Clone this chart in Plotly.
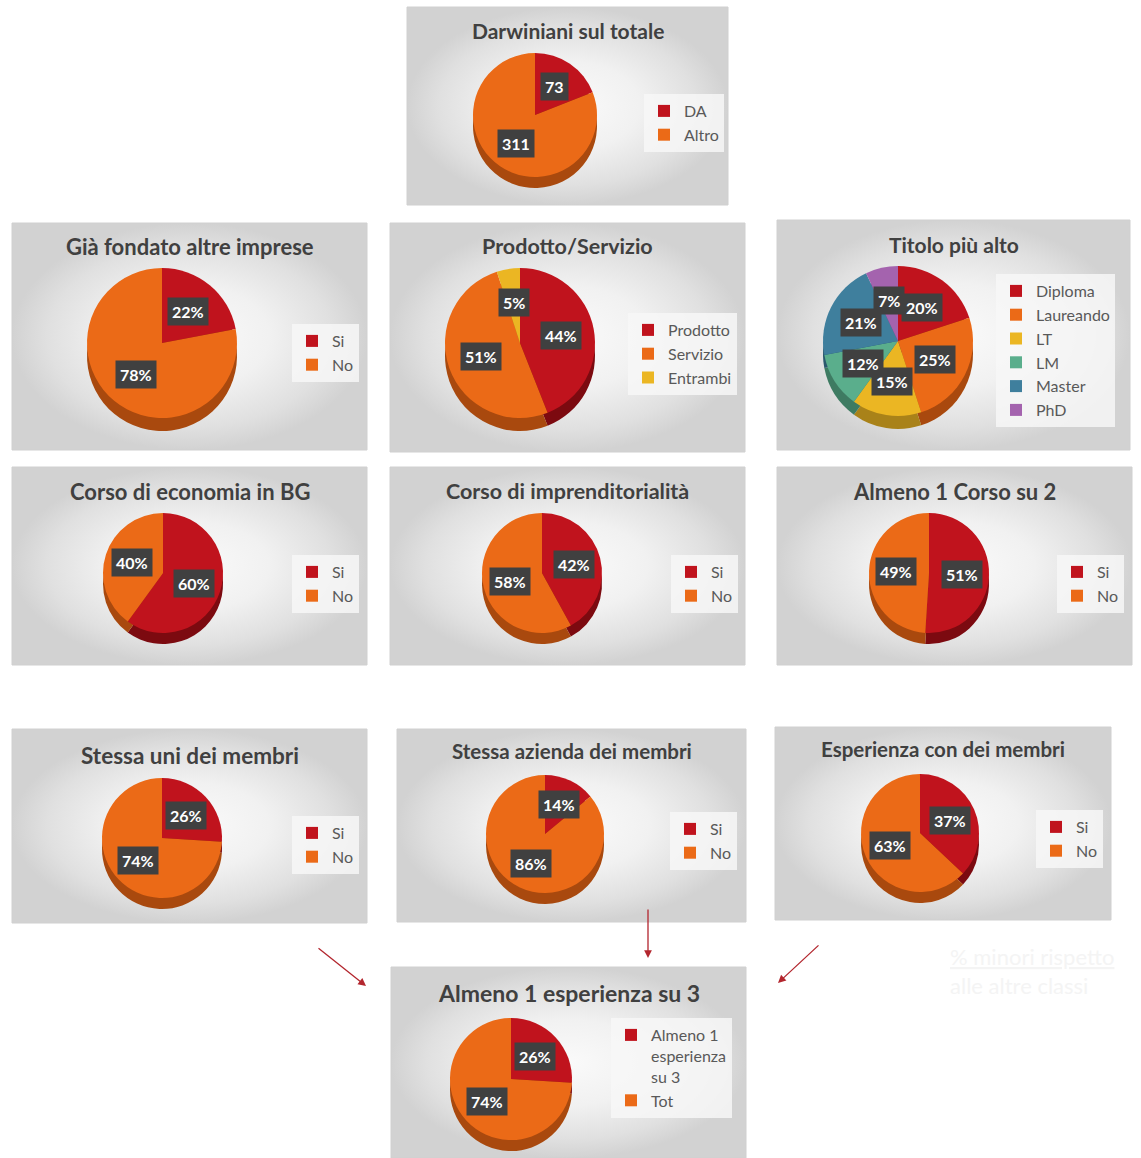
import math
import plotly.graph_objects as go

# ---------------- data ----------------
titles = [
    "Darwiniani sul totale", "Già fondato altre imprese", "Prodotto/Servizio",
    "Titolo più alto", "Corso di economia in BG", "Corso di imprenditorialità",
    "Almeno 1 Corso su 2", "Stessa uni dei membri", "Stessa azienda dei membri",
    "Esperienza con dei membri", "Almeno 1 esperienza su 3",
]
darwin_labels = ["DA", "Altro"]
darwin_values = [73, 311]
si_no_labels = ["Si", "No"]
fondato_values = [22, 78]
prodotto_labels = ["Prodotto", "Servizio", "Entrambi"]
prodotto_values = [44, 51, 5]
titolo_labels = ["Diploma", "Laureando", "LT", "LM", "Master", "PhD"]
titolo_values = [20, 25, 15, 12, 21, 7]
economia_values = [60, 40]
imprenditorialita_values = [42, 58]
corso2_values = [51, 49]
uni_values = [26, 74]
azienda_values = [14, 86]
esperienza_values = [37, 63]
almeno3_labels = ["Almeno 1<br>esperienza<br>su 3", "Tot"]
almeno3_values = [26, 74]

charts = [
    (darwin_labels, darwin_values, "value"),
    (si_no_labels, fondato_values, "pct"),
    (prodotto_labels, prodotto_values, "pct"),
    (titolo_labels, titolo_values, "pct"),
    (si_no_labels, economia_values, "pct"),
    (si_no_labels, imprenditorialita_values, "pct"),
    (si_no_labels, corso2_values, "pct"),
    (si_no_labels, uni_values, "pct"),
    (si_no_labels, azienda_values, "pct"),
    (si_no_labels, esperienza_values, "pct"),
    (almeno3_labels, almeno3_values, "pct"),
]

# ---------------- styling / layout ----------------
W, H = 1141, 1158
colors = ["#C0131D", "#EB6A17", "#EBB623", "#5AAE8C", "#3F7F9D", "#A463AE"]
dark = ["#7C0A10", "#A9490E", "#A98219", "#3E7B62", "#2A586D", "#72447A"]
FONT = "Lato"

# panel box (x0, y0, x1, y1), title y, title size
panels = [
    ((407, 7, 728, 205), 30, 21),
    ((12, 223, 367, 450), 246, 22),
    ((390, 223, 745, 452), 246, 21.5),
    ((777, 220, 1130, 450), 244, 21),
    ((12, 467, 367, 665), 491, 22),
    ((390, 467, 745, 665), 491, 21.5),
    ((777, 467, 1132, 665), 491, 22),
    ((12, 729, 367, 923), 755, 22.5),
    ((397, 729, 746, 922), 751, 20.5),
    ((775, 727, 1111, 920), 749, 20.5),
    ((391, 967, 746, 1158), 993, 23),
]
# pie centre x, centre y, diameter, depth
pies = [
    (535, 115, 124, 11),
    (162, 343, 150, 13),
    (520, 343, 150, 13),
    (898, 341, 150, 13),
    (163, 573, 120, 11),
    (542, 573, 120, 11),
    (929, 573, 120, 11),
    (162, 838, 120, 11),
    (545, 834, 118, 11),
    (920, 833, 118, 11),
    (511, 1079, 122, 11),
]
# legend left x, top y
legends = [
    (644, 94), (292, 324), (628, 313), (996, 274), (292, 555), (671, 555),
    (1057, 555), (292, 816), (670, 812), (1036, 810), (611, 1018),
]

fig = go.Figure()
annotations = []

# panel backgrounds
for (x0, y0, x1, y1), ty, ts in panels:
    fig.add_trace(go.Scatter(
        x=[x0, x1, x1, x0, x0], y=[y0, y0, y1, y1, y0],
        mode="lines", fill="toself",
        fillgradient=dict(type="radial",
                          colorscale=[[0, "#FAFAFA"], [0.45, "#F1F1F1"],
                                      [0.8, "#E0E0E0"], [1, "#D2D2D2"]]),
        line=dict(color="#D0D0D0", width=1),
        hoverinfo="skip", showlegend=False,
    ))

for i, ((labels, values, mode), ((x0, y0, x1, y1), ty, ts), (cx, cy, D, dep), (lx, ly)) in enumerate(
        zip(charts, panels, pies, legends)):
    lname = "legend" if i == 0 else f"legend{i + 1}"
    n = len(values)
    R = D / 2
    # invisible suffix so that each pie keeps its own legend entries
    shown_labels = [lab + "\u200b" * i for lab in labels]
    # depth (side) pie
    fig.add_trace(go.Pie(
        labels=shown_labels, values=values, sort=False, direction="clockwise", rotation=0,
        marker=dict(colors=dark[:n], line=dict(width=0)), textinfo="none",
        hoverinfo="skip", showlegend=False, legend=lname,
        domain=dict(x=[(cx - R) / W, (cx + R) / W],
                    y=[1 - (cy + dep + R) / H, 1 - (cy + dep - R) / H]),
    ))
    fig.add_trace(go.Pie(
        labels=shown_labels, values=values, sort=False, direction="clockwise", rotation=0,
        marker=dict(colors=colors[:n], line=dict(width=0)), textinfo="none",
        showlegend=True, legend=lname,
        domain=dict(x=[(cx - R) / W, (cx + R) / W],
                    y=[1 - (cy + R) / H, 1 - (cy - R) / H]),
    ))
    # title
    annotations.append(dict(
        x=(x0 + x1) / 2, y=ty, xref="x", yref="y", text=f"<b>{titles[i]}</b>",
        showarrow=False, font=dict(family=FONT, size=ts, color="#404040"),
        xanchor="center", yanchor="middle",
    ))
    # data labels
    total = sum(values)
    cum = 0
    for v in values:
        mid = (cum + v / 2) / total * 2 * math.pi
        cum += v
        f = 0.55
        tx = cx + f * R * math.sin(mid)
        tyy = cy - f * R * math.cos(mid)
        txt = str(v) if mode == "value" else f"{round(100 * v / total)}%"
        annotations.append(dict(
            x=tx, y=tyy, xref="x", yref="y", text=f"<b>{txt}</b>", showarrow=False,
            font=dict(family=FONT, size=16, color="white"), bgcolor="#404040",
            borderpad=4, xanchor="center", yanchor="middle",
        ))
    fig.layout[lname] = dict(
        x=lx / W, y=1 - ly / H, xref="paper", yref="paper", xanchor="left", yanchor="top",
        bgcolor="rgba(247,247,247,0.85)", font=dict(family=FONT, size=16, color="#595959"),
        borderwidth=0, itemclick=False, itemdoubleclick=False, valign="top",
    )

# arrows
arrows = [((317, 947), (366, 986)), ((648, 908), (648, 958)), ((820, 944), (778, 983))]
for (ax_, ay_), (hx, hy) in arrows:
    annotations.append(dict(
        x=hx, y=hy, ax=ax_, ay=ay_, xref="x", yref="y", axref="x", ayref="y",
        text="", showarrow=True, arrowhead=2, arrowsize=1.2, arrowwidth=1.3,
        arrowcolor="#B3262E",
    ))

annotations.append(dict(
    x=1032, y=971, xref="x", yref="y", showarrow=False,
    text="<u>% minori rispetto</u><br>alle altre classi",
    font=dict(family=FONT, size=22, color="#F4F4F4"), align="left",
))

fig.update_layout(
    width=W, height=H, margin=dict(l=0, r=0, t=0, b=0),
    paper_bgcolor="white", plot_bgcolor="white",
    xaxis=dict(range=[0, W], visible=False, fixedrange=True),
    yaxis=dict(range=[H, 0], visible=False, fixedrange=True),
    annotations=annotations, font=dict(family=FONT),
)

fig.write_html("out.html", config={"displayModeBar": False},
               post_script="document.body.style.margin='0';")
